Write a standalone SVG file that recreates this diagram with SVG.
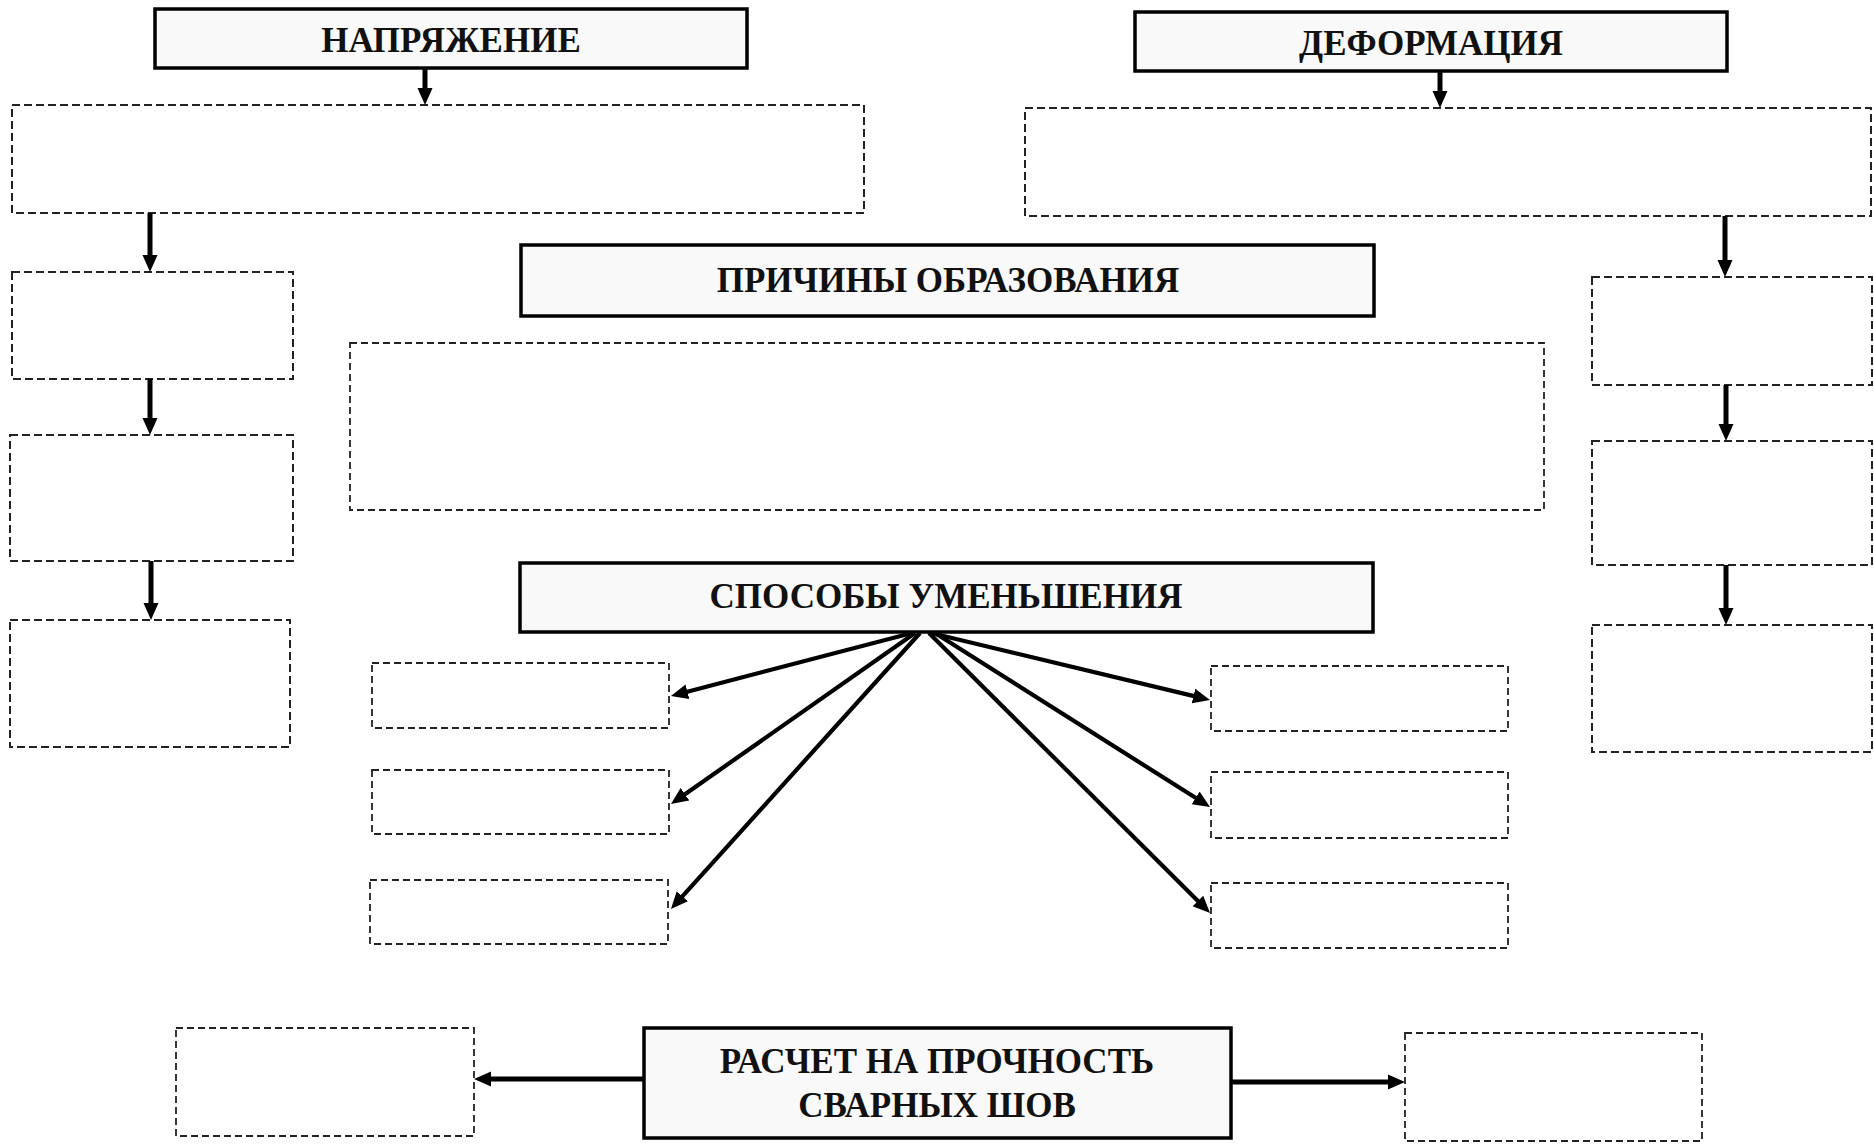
<svg xmlns="http://www.w3.org/2000/svg" width="1874" height="1145" viewBox="0 0 1874 1145">
<style>
.title rect{fill:#f9f9f9;stroke:#000;stroke-width:3.5}
.title text{font-family:"Liberation Serif","Times New Roman",serif;font-weight:bold;font-size:35px;fill:#111;text-anchor:middle}
.slot rect{fill:#fff;stroke:#222;stroke-width:2;stroke-dasharray:8 4}
.slot.small rect{stroke-width:1.8;stroke-dasharray:7 4}
.conn line{stroke:#000;fill:none;marker-end:url(#ah)}
.v line{stroke-width:5}
.fan line{stroke-width:4.2}
</style>
<defs>
<marker id="ah" markerUnits="userSpaceOnUse" markerWidth="18" markerHeight="16" refX="6" refY="8" orient="auto">
<path d="M0,0.5 L17,8 L0,15.5 Z" fill="#000"/>
</marker>
</defs>
<rect width="1874" height="1145" fill="#fff"/>

<g id="napryazhenie" class="title"><rect x="155" y="9" width="592" height="59"/><text x="451" y="52">НАПРЯЖЕНИЕ</text></g>
<g id="deformaciya" class="title"><rect x="1135" y="12" width="592" height="59"/><text x="1431" y="55">ДЕФОРМАЦИЯ</text></g>
<g id="prichiny" class="title"><rect x="521" y="245" width="853" height="71"/><text x="948" y="292">ПРИЧИНЫ ОБРАЗОВАНИЯ</text></g>
<g id="sposoby" class="title"><rect x="520" y="563" width="853" height="69"/><text x="946" y="608">СПОСОБЫ УМЕНЬШЕНИЯ</text></g>
<g id="raschet" class="title"><rect x="644" y="1028" width="587" height="110"/><text x="937" y="1073">РАСЧЕТ НА ПРОЧНОСТЬ</text><text x="937" y="1117">СВАРНЫХ ШОВ</text></g>

<g id="a1" class="slot"><rect x="12" y="105" width="852" height="108"/></g>
<g id="a2" class="slot"><rect x="12" y="272" width="281" height="107"/></g>
<g id="a3" class="slot"><rect x="10" y="435" width="283" height="126"/></g>
<g id="a4" class="slot"><rect x="10" y="620" width="280" height="127"/></g>
<g id="b1" class="slot"><rect x="1025" y="108" width="846" height="108"/></g>
<g id="b2" class="slot"><rect x="1592" y="277" width="280" height="108"/></g>
<g id="b3" class="slot"><rect x="1592" y="441" width="280" height="124"/></g>
<g id="b4" class="slot"><rect x="1592" y="625" width="280" height="127"/></g>
<g id="p1" class="slot small"><rect x="350" y="343" width="1194" height="167"/></g>
<g id="l1" class="slot small"><rect x="372" y="663" width="297" height="65"/></g>
<g id="l2" class="slot small"><rect x="372" y="770" width="297" height="64"/></g>
<g id="l3" class="slot small"><rect x="370" y="880" width="298" height="64"/></g>
<g id="r1" class="slot small"><rect x="1211" y="666" width="297" height="65"/></g>
<g id="r2" class="slot small"><rect x="1211" y="772" width="297" height="66"/></g>
<g id="r3" class="slot small"><rect x="1211" y="883" width="297" height="65"/></g>
<g id="bl" class="slot small"><rect x="176" y="1028" width="298" height="108"/></g>
<g id="br" class="slot small"><rect x="1405" y="1033" width="297" height="108"/></g>

<g id="connectors" class="conn">
<g class="v">
<line x1="425" y1="68" x2="425" y2="94"/>
<line x1="1440" y1="71" x2="1440" y2="97"/>
<line x1="150" y1="213" x2="150" y2="261"/>
<line x1="150" y1="379" x2="150" y2="424"/>
<line x1="151" y1="561" x2="151" y2="609"/>
<line x1="1725" y1="216" x2="1725" y2="266"/>
<line x1="1726" y1="385" x2="1726" y2="430"/>
<line x1="1726" y1="565" x2="1726" y2="614"/>
<line x1="644" y1="1079" x2="485" y2="1079"/>
<line x1="1231" y1="1082" x2="1394" y2="1082"/>
</g>
<g class="fan">
<line x1="912" y1="633" x2="681.6" y2="693.2"/>
<line x1="915" y1="633" x2="680" y2="797.7"/>
<line x1="920" y1="633" x2="678.3" y2="900.8"/>
<line x1="931" y1="633" x2="1199.3" y2="697.4"/>
<line x1="935" y1="633" x2="1200.7" y2="801.1"/>
<line x1="929" y1="633" x2="1202.2" y2="905.2"/>
</g>
</g>
</svg>
